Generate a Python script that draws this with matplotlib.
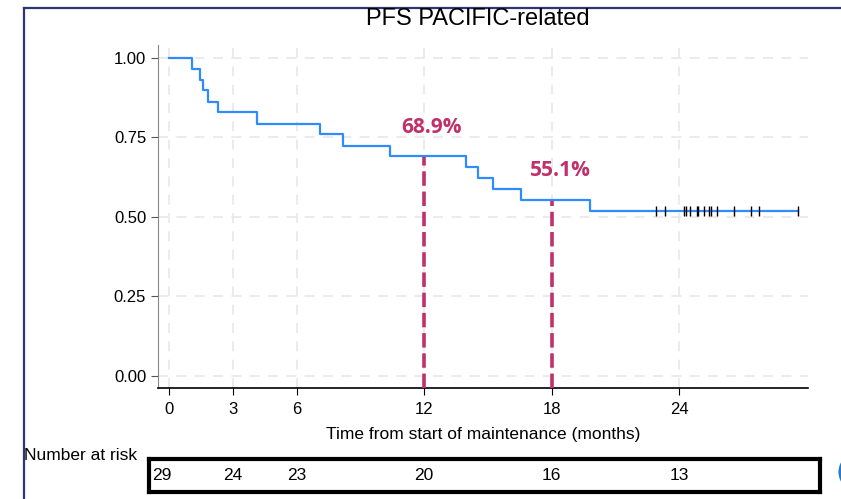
import numpy as np
import matplotlib.pyplot as plt
from matplotlib.lines import Line2D
from matplotlib.patches import Ellipse

W, H = 841, 499

# Kaplan-Meier steps
step_times = [0, 1.07, 1.46, 1.58, 1.82, 2.32, 4.13, 7.11, 8.20, 10.4,
              13.98, 14.55, 15.23, 16.56, 19.81, 29.62]
step_surv = [1.0, 0.966, 0.931, 0.897, 0.862, 0.828, 0.793, 0.759, 0.724,
             0.690, 0.655, 0.621, 0.586, 0.552, 0.517, 0.517]
censor_times = [22.92, 23.34, 24.25, 24.33, 24.52, 24.83, 24.91, 25.19,
                25.42, 25.51, 25.78, 26.59, 27.39, 27.78, 29.62]
censor_surv = 0.517

# landmarks
mark_times = [12, 18]
mark_surv = [0.689, 0.551]
mark_labels = ["68.9%", "55.1%"]

xticks = [0, 3, 6, 12, 18, 24]
yticks = [0.0, 0.25, 0.5, 0.75, 1.0]
risk_times = [0, 3, 6, 12, 18, 24]
risk_counts = [29, 24, 23, 20, 16, 13]

blue = "#2E8CFF"
crimson = "#C0306A"
font = "Liberation Sans"

fig = plt.figure(figsize=(W / 100, H / 100), dpi=100)

# main axes, placed by pixel
x0, x1, y0, y1 = 158, 808, 45, 388
ax = fig.add_axes([x0 / W, 1 - y1 / H, (x1 - x0) / W, (y1 - y0) / H])
ax.set_xlim(-0.52, 30.07)
ax.set_ylim(-0.038, 1.04)

for t in xticks:
    ax.axvline(t, color="#e8e8e8", lw=1.2, ls=(0, (6, 5)), zorder=0)
for v in yticks:
    ax.axhline(v, color="#e8e8e8", lw=1.2, ls=(0, (6, 5)), zorder=0)

ax.step(step_times, step_surv, where="post", color=blue, lw=1.6, zorder=3)
ax.plot(censor_times, [censor_surv] * len(censor_times), ls="none",
        marker="|", ms=7, mew=1.0, color="black", zorder=4)

for t, s, lab, dx, dy in zip(mark_times, mark_surv, mark_labels,
                             [0.35, 0.4], [0.058, 0.06]):
    ax.vlines(t, -0.038, s, color=crimson, lw=2.6, ls=(0, (4, 1.6)), zorder=5)
    ax.text(t + dx, s + dy, lab, color=crimson, fontsize=15,
            fontweight="bold", family="Open Sans", ha="center", va="bottom")

ax.set_xticks(xticks)
ax.set_yticks(yticks)
ax.set_yticklabels(["%.2f" % v for v in yticks])
ax.tick_params(axis="both", labelsize=12, length=5, width=0.8)
ax.tick_params(axis="x", pad=5)
for lab in ax.get_xticklabels() + ax.get_yticklabels():
    lab.set_family(font)
ax.tick_params(axis="y", colors="#555555", labelcolor="black")
ax.spines["top"].set_visible(False)
ax.spines["right"].set_visible(False)
ax.spines["left"].set_color("#888888")
ax.spines["bottom"].set_color("black")
ax.spines["bottom"].set_linewidth(1.2)
ax.set_xlabel("Time from start of maintenance (months)", fontsize=12.5,
              family=font, labelpad=7)

fig.text(478 / W, 1 - 19 / H, "PFS PACIFIC-related", fontsize=17,
         family=font, ha="center", va="center")

# number at risk table
bx0, bx1, by0, by1 = 149, 820, 459, 492
rax = fig.add_axes([bx0 / W, 1 - by1 / H, (bx1 - bx0) / W, (by1 - by0) / H])
rax.set_xlim((bx0 - 169) / 21.25, (bx1 - 169) / 21.25)
rax.set_ylim(0, 1)
rax.set_xticks([])
rax.set_yticks([])
for sp in rax.spines.values():
    sp.set_linewidth(3)
    sp.set_color("black")
for t, n in zip(risk_times, risk_counts):
    xt = t - 0.33 if t == 0 else t
    rax.text(xt, 0.5, str(n), ha="center", va="center", fontsize=12.5,
             family=font)
fig.text(24 / W, 1 - 455 / H, "Number at risk", fontsize=12.5, family=font,
         ha="left", va="center")

# slide frame and the edge of a slide element at the bottom right
navy = "#2F3570"
fig.add_artist(Line2D([24 / W, 1], [1 - 8 / H, 1 - 8 / H], color=navy, lw=1.6))
fig.add_artist(Line2D([24 / W, 24 / W], [0, 1 - 8 / H], color=navy, lw=1.6))
fig.add_artist(Ellipse((862 / W, 1 - 472 / H), 44 / W, 40 / H, fill=False,
                       ec="#2A78C8", lw=2.2, transform=fig.transFigure))

fig.savefig("out.png", dpi=100)
